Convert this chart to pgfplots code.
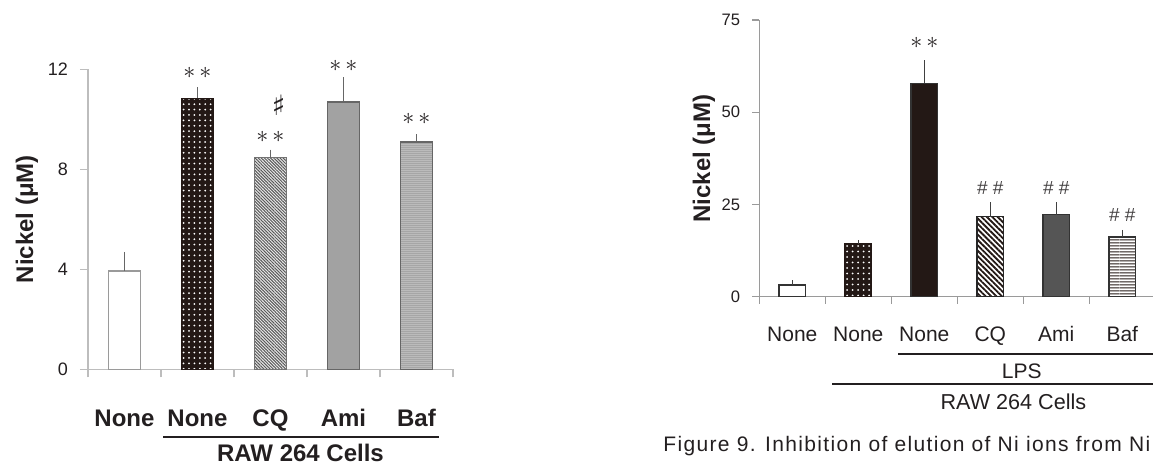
\documentclass[border=0pt]{standalone}
\usepackage{fontspec}
\setmainfont{Liberation Sans}
\newfontfamily\djv{DejaVu Sans}
\newfontfamily\capfont[LetterSpace=6.4]{Liberation Sans}
\usepackage{pgfplots}
\pgfplotsset{compat=1.18}
\usetikzlibrary{patterns,patterns.meta}
\definecolor{axL}{HTML}{BDBDBD}
\definecolor{axR}{HTML}{9A9A9A}
\definecolor{txt}{HTML}{231F20}
\definecolor{blk}{HTML}{231815}
\definecolor{amiL}{HTML}{A2A2A2}
\definecolor{amiR}{HTML}{555555}
\pgfdeclarepatternformonly{hlinesR}{\pgfpointorigin}{\pgfqpoint{20pt}{1.5pt}}{\pgfqpoint{20pt}{1.5pt}}{%
  \pgfpathrectangle{\pgfqpoint{0pt}{0.42pt}}{\pgfqpoint{20pt}{0.66pt}}\pgfusepath{fill}}
\pgfdeclarepatternformonly{hlinesL}{\pgfpointorigin}{\pgfqpoint{20pt}{1.15pt}}{\pgfqpoint{20pt}{1.15pt}}{%
  \pgfpathrectangle{\pgfqpoint{0pt}{0.35pt}}{\pgfqpoint{20pt}{0.45pt}}\pgfusepath{fill}}
\pgfplotsset{
  mybar/.style n args={3}{ybar, bar width=#1, bar shift=0pt, line width=0.6pt,
    error bars/.cd, y dir=plus, y explicit,
    error bar style={line width=0.6pt, draw=#2},
    error mark options={line width=0.6pt, mark size=#3, draw=#2}},
}
\tikzset{
  catL/.style={anchor=base, inner sep=0pt, text=txt, font=\bfseries\fontsize{12}{14}\selectfont},
  catR/.style={anchor=base, inner sep=0pt, text=txt, font=\fontsize{10.5}{12}\selectfont},
  sig/.style={inner sep=0pt, text=txt},
}
\begin{document}
\begin{tikzpicture}
\useasboundingbox (0,0) rectangle (576.5pt,233pt);
% ---------------- left panel ----------------
\begin{axis}[
  at={(44pt,48.35pt)}, anchor=south west,
  scale only axis, width=182.5pt, height=150pt,
  xmin=0, xmax=5, ymin=0, ymax=12,
  axis x line*=bottom, axis y line*=left,
  axis line style={draw=axL, line width=0.6pt},
  every tick/.style={draw=axL, line width=0.6pt},
  tick align=outside, major tick length=4pt,
  xtick={0,1,2,3,4,5}, xticklabels={},
  ytick={0,4,8,12},
  /pgf/number format/assume math mode=true,
  yticklabel style={font=\fontsize{9}{10}\selectfont, text=txt, xshift=-2.5pt},
  clip=false,
]
\addplot[draw=axR, fill=white, mybar={16pt}{black!60}{1pt}]
  coordinates {(0.5,3.93) +- (0,0.69)};
\addplot[draw=blk, fill=blk, postaction={pattern={Dots[distance=2.7pt,radius=0.5pt]}, pattern color=white}, mybar={16pt}{black!60}{1pt}]
  coordinates {(1.5,10.84) +- (0,0.36)};
\addplot[draw=black!55, fill=black!8, postaction={pattern={Lines[angle=-45,distance=1.1pt,line width=0.5pt]}, pattern color=black!65}, mybar={16pt}{black!60}{1pt}]
  coordinates {(2.5,8.47) +- (0,0.24)};
\addplot[draw=black!60, fill=amiL, mybar={16pt}{black!60}{1pt}]
  coordinates {(3.5,10.69) +- (0,0.92)};
\addplot[draw=black!60, fill=black!22, postaction={pattern=hlinesL, pattern color=black!58}, mybar={16pt}{black!60}{1pt}]
  coordinates {(4.5,9.09) +- (0,0.23)};
% significance marks
\node[sig, font=\fontsize{13}{13}\selectfont] at (axis cs:1.5,11.85) {${\ast}\,{\ast}$};
\node[sig, font=\fontsize{13}{13}\selectfont] at (axis cs:2.5,9.3) {${\ast}\,{\ast}$};
\node[sig, font=\djv\fontsize{14}{14}\selectfont] at (axis cs:2.61,10.55) {♯};
\node[sig, font=\fontsize{13}{13}\selectfont] at (axis cs:3.5,12.13) {${\ast}\,{\ast}$};
\node[sig, font=\fontsize{13}{13}\selectfont] at (axis cs:4.5,10.0) {${\ast}\,{\ast}$};
% category labels
\node[catL] at ([yshift=-28.6pt]axis cs:0.5,0) {None};
\node[catL] at ([yshift=-28.6pt]axis cs:1.5,0) {None};
\node[catL] at ([yshift=-28.6pt]axis cs:2.5,0) {CQ};
\node[catL] at ([yshift=-28.6pt]axis cs:3.5,0) {Ami};
\node[catL] at ([yshift=-28.6pt]axis cs:4.5,0) {Baf};
\end{axis}
\draw[txt, line width=1pt] (81.5pt,14.5pt) -- (219.5pt,14.5pt);
\node[anchor=base, inner sep=0pt, text=txt, font=\bfseries\fontsize{12}{14}\selectfont] at (150.25pt,2.25pt) {RAW 264 Cells};
\node[rotate=90, anchor=base, inner sep=0pt, text=txt, font=\bfseries\fontsize{12}{14}\selectfont] at (16.5pt,123.4pt) {Nickel (μM)};
% ---------------- right panel ----------------
\begin{axis}[
  at={(379.65pt,84.65pt)}, anchor=south west,
  scale only axis, width=198pt, height=138.35pt,
  xmin=0, xmax=6, ymin=0, ymax=75,
  axis x line*=bottom, axis y line*=left,
  axis line style={draw=axR, line width=0.6pt},
  every tick/.style={draw=axR, line width=0.6pt},
  tick align=outside, major tick length=3.5pt,
  xtick={0,1,2,3,4,5,6}, xticklabels={},
  ytick={0,25,50,75},
  /pgf/number format/assume math mode=true,
  yticklabel style={font=\fontsize{8.3}{10}\selectfont, text=txt, xshift=-2.6pt},
  clip=false,
]
\addplot[draw=black!80, fill=white, mybar={13.35pt}{black!75}{1pt}]
  coordinates {(0.5,3.17) +- (0,0.73)};
\addplot[draw=blk, fill=blk, postaction={pattern={Dots[distance=2.75pt,radius=0.5pt]}, pattern color=white}, mybar={13.35pt}{black!75}{1pt}]
  coordinates {(1.5,14.37) +- (0,0.43)};
\addplot[draw=black!80, fill=blk, mybar={13.35pt}{black!75}{1pt}]
  coordinates {(2.5,57.8) +- (0,5.7)};
\addplot[draw=black!85, pattern={Lines[angle=-45,distance=1.9pt,line width=0.9pt]}, pattern color=blk, mybar={13.35pt}{black!75}{1pt}]
  coordinates {(3.5,21.7) +- (0,3.35)};
\addplot[draw=black!80, fill=amiR, mybar={13.35pt}{black!75}{1pt}]
  coordinates {(4.5,22.2) +- (0,2.85)};
\addplot[draw=black!80, pattern=hlinesR, pattern color=blk, mybar={13.35pt}{black!75}{1pt}]
  coordinates {(5.5,16.2) +- (0,1.4)};
\node[sig, font=\fontsize{12}{12}\selectfont] at (axis cs:2.5,68.7) {${\ast}\,{\ast}$};
\node[sig, text=txt!85, font=\fontsize{9.5}{10}\selectfont] at (axis cs:3.5,29.55) {\#\hspace{2.5pt}\#};
\node[sig, text=txt!85, font=\fontsize{9.5}{10}\selectfont] at (axis cs:4.5,29.55) {\#\hspace{2.5pt}\#};
\node[sig, text=txt!85, font=\fontsize{9.5}{10}\selectfont] at (axis cs:5.5,22.15) {\#\hspace{2.5pt}\#};
\node[catR] at ([yshift=-22.5pt]axis cs:0.5,0) {None};
\node[catR] at ([yshift=-22.5pt]axis cs:1.5,0) {None};
\node[catR] at ([yshift=-22.5pt]axis cs:2.5,0) {None};
\node[catR] at ([yshift=-22.5pt]axis cs:3.5,0) {CQ};
\node[catR] at ([yshift=-22.5pt]axis cs:4.5,0) {Ami};
\node[catR] at ([yshift=-22.5pt]axis cs:5.5,0) {Baf};
\end{axis}
\draw[txt, line width=0.8pt] (449pt,55.85pt) -- (580pt,55.85pt);
\node[anchor=base, inner sep=0pt, text=txt, font=\fontsize{10.5}{12}\selectfont] at (510.85pt,43.85pt) {LPS};
\draw[txt, line width=0.8pt] (416pt,40.85pt) -- (580pt,40.85pt);
\node[anchor=base, inner sep=0pt, text=txt, font=\fontsize{10.8}{12}\selectfont] at (506.7pt,28.35pt) {RAW 264 Cells};
\node[rotate=90, anchor=base, inner sep=0pt, text=txt, font=\bfseries\fontsize{12}{14}\selectfont] at (355pt,153.8pt) {Nickel (μM)};
% caption
\node[anchor=base west, inner sep=0pt, text=txt, font=\capfont\fontsize{10.5}{12}\selectfont] at (331.5pt,7.15pt) {Figure 9. Inhibition of elution of Ni ions from Ni};
\end{tikzpicture}
\end{document}
